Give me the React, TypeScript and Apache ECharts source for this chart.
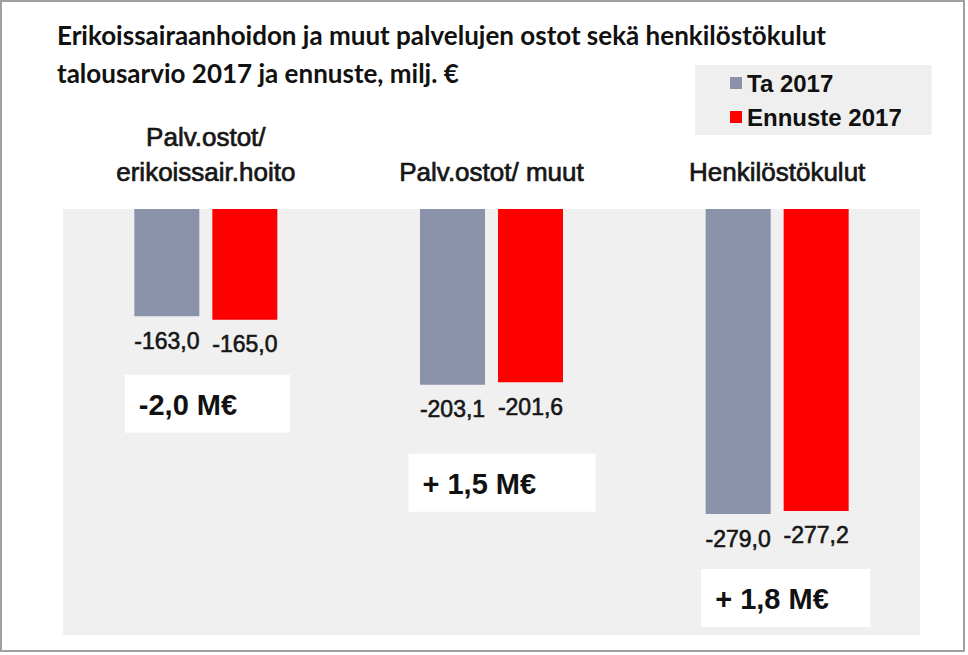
import { useEffect, useRef } from "react";
import * as echarts from "echarts";

const categories = ["Palv.ostot/\nerikoissair.hoito", "Palv.ostot/ muut", "Henkilöstökulut"];
const seriesNames = ["Ta 2017", "Ennuste 2017"];
const budget2017 = [-163.0, -203.1, -279.0];
const forecast2017 = [-165.0, -201.6, -277.2];
const titleText = "Erikoissairaanhoidon ja muut palvelujen ostot sekä henkilöstökulut\ntalousarvio 2017 ja ennuste, milj. €";

const SANS = '"Liberation Sans", Arial, sans-serif';
const COLORS = ["#8b93ab", "#ff0000"];

const fmt = (v: number) => v.toFixed(1).replace(".", ",");
const fmtDiff = (d: number) => (d < 0 ? "-" + fmt(Math.abs(d)) : "+ " + fmt(Math.abs(d))) + " M€";

export default function App() {
  const ref = useRef<HTMLDivElement>(null);
  useEffect(() => {
    document.body.style.margin = "0";
    const chart = echarts.init(ref.current!, undefined, { renderer: "svg" });
    const labelCfg = {
      show: true,
      position: "bottom",
      distance: 13,
      fontFamily: SANS,
      fontSize: 23,
      color: "#161616",
      textBorderColor: "#161616",
      textBorderWidth: 0.6,
      formatter: (p: any) => fmt(p.value),
    };
    chart.setOption({
      animation: false,
      backgroundColor: "#ffffff",
      title: {
        text: titleText,
        left: 52,
        top: 11,
        textStyle: { fontFamily: "Lato", fontWeight: "bold", fontSize: 26, lineHeight: 38, color: "#111111" },
      },
      legend: {
        orient: "vertical",
        left: 695,
        top: 65,
        padding: [1, 30, 1, 35],
        backgroundColor: "#efefef",
        itemWidth: 12,
        itemHeight: 12,
        itemGap: 0,
        icon: "rect",
        textStyle: { fontFamily: SANS, fontWeight: "bold", fontSize: 24, lineHeight: 34, color: "#111111" },
        data: seriesNames,
      },
      grid: {
        left: 63,
        right: 48,
        top: 209,
        bottom: 20,
        show: true,
        backgroundColor: "#f0f0f0",
        borderWidth: 0,
      },
      xAxis: {
        type: "category",
        position: "top",
        data: categories,
        axisLine: { show: false },
        axisTick: { show: false },
        axisLabel: {
          fontFamily: SANS,
          fontSize: 26,
          lineHeight: 35,
          color: "#161616",
          textBorderColor: "#161616",
          textBorderWidth: 0.7,
          margin: 20,
          interval: 0,
        },
      },
      yAxis: {
        type: "value",
        min: -350,
        max: -100,
        show: false,
        splitLine: { show: false },
      },
      series: [
        {
          name: seriesNames[0],
          type: "bar",
          data: budget2017,
          barWidth: 65,
          barGap: "20%",
          clip: true,
          itemStyle: { color: COLORS[0] },
          label: labelCfg,
        },
        {
          name: seriesNames[1],
          type: "bar",
          data: forecast2017,
          barWidth: 65,
          barGap: "20%",
          clip: true,
          itemStyle: { color: COLORS[1] },
          label: labelCfg,
        },
      ],
    });

    const boxOffsets = [55, 69, 55];
    const boxLeft = [-81, -83, -76];
    const boxWidths = [165, 187, 169];
    const graphics: any[] = [
      {
        type: "rect",
        silent: true,
        z: 100,
        shape: { x: 1, y: 1, width: 963, height: 650 },
        style: { fill: "none", stroke: "#a0a0a0", lineWidth: 2 },
      },
    ];
    categories.forEach((c, i) => {
      const low = Math.min(budget2017[i], forecast2017[i]);
      const p = chart.convertToPixel({ gridIndex: 0 }, [i, low]) as number[];
      const x0 = p[0] + boxLeft[i];
      const y0 = p[1] + boxOffsets[i];
      graphics.push({
        type: "group",
        x: x0,
        y: y0,
        children: [
          { type: "rect", shape: { x: 0, y: 0, width: boxWidths[i], height: 58 }, style: { fill: "#ffffff" } },
          {
            type: "text",
            x: 14,
            y: 30,
            style: {
              text: fmtDiff(forecast2017[i] - budget2017[i]),
              fontFamily: SANS,
              fontWeight: "bold",
              fontSize: 29,
              fill: "#111111",
              verticalAlign: "middle",
              align: "left",
            },
          },
        ],
      });
    });
    chart.setOption({ graphic: graphics });
    return () => chart.dispose();
  }, []);
  return <div ref={ref} style={{ width: 968, height: 655 }} />;
}
